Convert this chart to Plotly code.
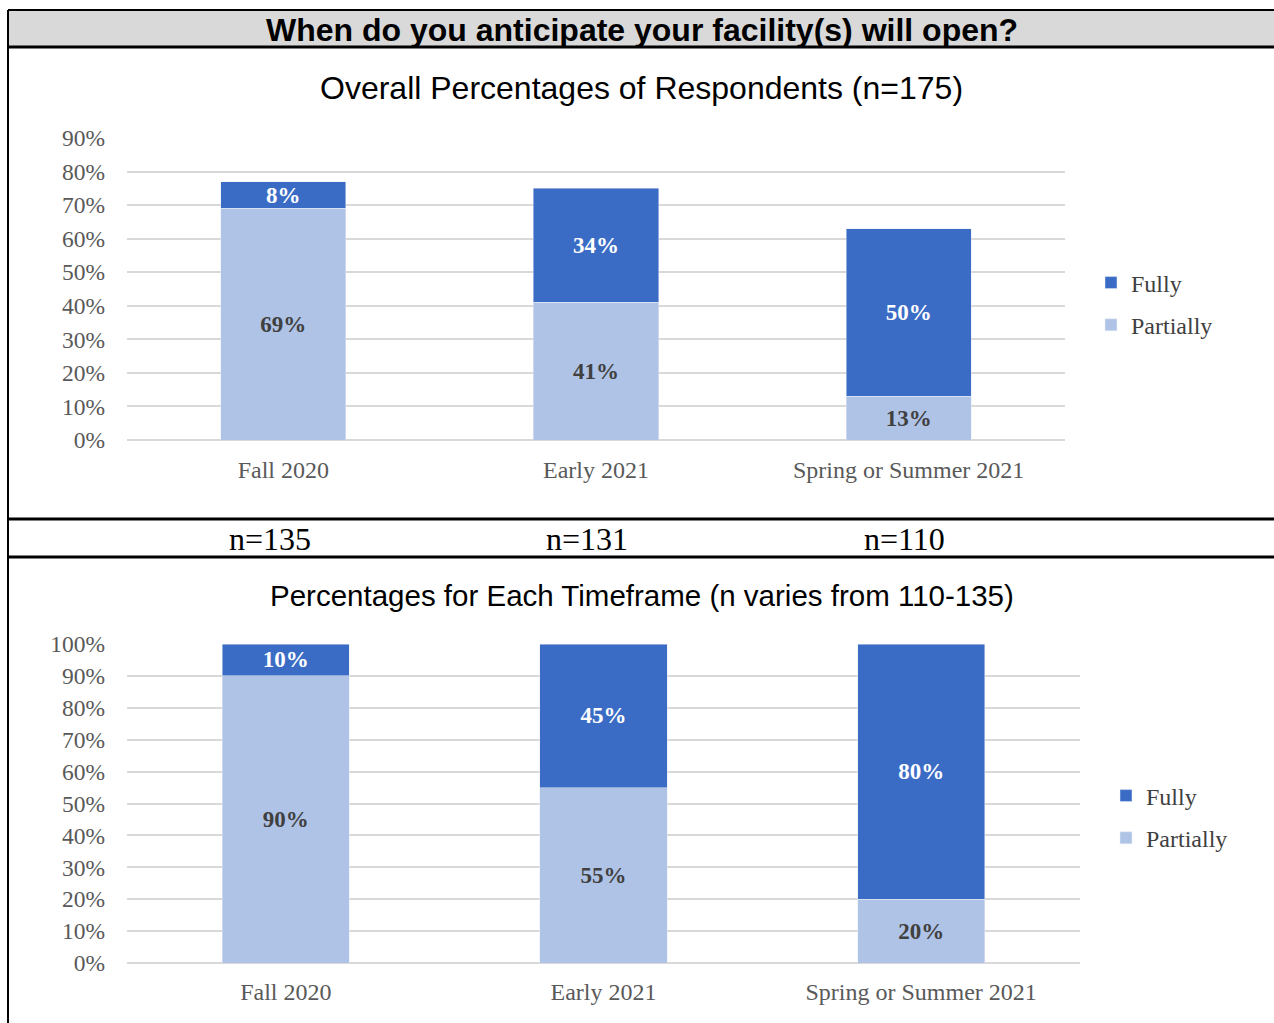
import plotly.graph_objects as go

W, H = 1274, 1023

categories = ["Fall 2020", "Early 2021", "Spring or Summer 2021"]

# overall percentages of respondents (n=175)
overall_partially = [0.69, 0.41, 0.13]
overall_fully = [0.08, 0.34, 0.50]

# percentages within each timeframe
timeframe_partially = [0.90, 0.55, 0.20]
timeframe_fully = [0.10, 0.45, 0.80]

n_labels = ["n=135", "n=131", "n=110"]

header = "When do you anticipate your facility(s) will open?"
title_top = "Overall Percentages of Respondents (n=175)"
title_bottom = "Percentages for Each Timeframe (n varies from 110-135)"

FULLY = "#3B6CC5"
PARTIAL = "#AFC3E6"
GRID = "#D9D9D9"
SERIF = "Liberation Serif"
SANS = "Liberation Sans"


def px_x(v):
    return v / W


def px_y(v):
    return 1 - v / H


fig = go.Figure()

for xa, ya, part, full, leg in [
    ("x", "y", overall_partially, overall_fully, "legend"),
    ("x2", "y2", timeframe_partially, timeframe_fully, "legend2"),
]:
    fig.add_trace(
        go.Bar(
            x=categories, y=part, name="Partially", marker_color=PARTIAL,
            xaxis=xa, yaxis=ya, legend=leg, legendgroup=leg + "_p", legendrank=2,
            texttemplate="%{y:.0%}", textposition="inside",
            insidetextanchor="middle", textangle=0,
            textfont=dict(family=SERIF, size=23, color="#404040", weight="bold"),
        )
    )
    fig.add_trace(
        go.Bar(
            x=categories, y=full, name="Fully", marker_color=FULLY,
            xaxis=xa, yaxis=ya, legend=leg, legendgroup=leg + "_f", legendrank=1,
            texttemplate="%{y:.0%}", textposition="inside",
            insidetextanchor="middle", textangle=0,
            textfont=dict(family=SERIF, size=23, color="white", weight="bold"),
        )
    )

tick_font = dict(family=SERIF, size=23.5, color="#595959")
cat_font = dict(family=SERIF, size=24, color="#595959")
legend_font = dict(family=SERIF, size=24, color="#404040")

fig.update_layout(
    width=W,
    height=H,
    margin=dict(l=0, r=0, t=0, b=0),
    paper_bgcolor="white",
    plot_bgcolor="white",
    barmode="stack",
    bargap=0.6,
    showlegend=True,
    uniformtext=dict(minsize=23, mode="show"),
    xaxis=dict(domain=[px_x(127), px_x(1065)], anchor="y", tickfont=cat_font,
               showline=False, ticklabelstandoff=13, automargin=False),
    yaxis=dict(domain=[px_y(440), px_y(138)], anchor="x", range=[0, 0.9],
               dtick=0.1, tickformat=".0%", tickfont=tick_font,
               gridcolor=GRID, gridwidth=2, zerolinecolor=GRID, zerolinewidth=2,
               ticklabelstandoff=21, automargin=False),
    xaxis2=dict(domain=[px_x(127), px_x(1080)], anchor="y2", tickfont=cat_font,
                showline=False, ticklabelstandoff=12, automargin=False),
    yaxis2=dict(domain=[px_y(963), px_y(644)], anchor="x2", range=[0, 1],
                dtick=0.1, tickformat=".0%", tickfont=tick_font,
                gridcolor=GRID, gridwidth=2, zerolinecolor=GRID, zerolinewidth=2,
                ticklabelstandoff=21, automargin=False),
    legend=dict(x=px_x(1091), y=px_y(304), xanchor="left", yanchor="middle",
                traceorder="grouped", font=legend_font,
                itemwidth=30, tracegroupgap=8),
    legend2=dict(x=px_x(1106), y=px_y(817), xanchor="left", yanchor="middle",
                 traceorder="grouped", font=legend_font,
                 itemwidth=30, tracegroupgap=8),
)

# table frame: header band and rules
fig.add_shape(type="rect", xref="paper", yref="paper",
              x0=px_x(8), x1=1, y0=px_y(47), y1=px_y(10),
              fillcolor="#D9D9D9", line_width=0, layer="below")
for yy, lw in [(10, 2), (47, 3), (519, 3), (557, 3)]:
    fig.add_shape(type="line", xref="paper", yref="paper",
                  x0=px_x(8), x1=1, y0=px_y(yy), y1=px_y(yy),
                  line=dict(color="black", width=lw))
fig.add_shape(type="line", xref="paper", yref="paper",
              x0=px_x(8), x1=px_x(8), y0=0, y1=px_y(10),
              line=dict(color="black", width=2))

fig.add_annotation(text=f"<b>{header}</b>", xref="paper", yref="paper",
                   x=px_x(642), y=px_y(30), xanchor="center", yanchor="middle",
                   showarrow=False, font=dict(family=SANS, size=32, color="black"))
fig.add_annotation(text=title_top, xref="paper", yref="paper",
                   x=px_x(641), y=px_y(88), xanchor="center", yanchor="middle",
                   showarrow=False, font=dict(family=SANS, size=32, color="black"))
fig.add_annotation(text=title_bottom, xref="paper", yref="paper",
                   x=px_x(642), y=px_y(595), xanchor="center", yanchor="middle",
                   showarrow=False, font=dict(family=SANS, size=29.5, color="black"))

for xc, lab in zip([270, 587, 904], n_labels):
    fig.add_annotation(text=lab, xref="paper", yref="paper",
                       x=px_x(xc), y=px_y(539), xanchor="center", yanchor="middle",
                       showarrow=False, font=dict(family=SERIF, size=32, color="black"))

fig.write_html(
    "out.html",
    config={"displayModeBar": False},
    post_script="document.body.style.margin='0';document.body.style.overflow='hidden';",
)
